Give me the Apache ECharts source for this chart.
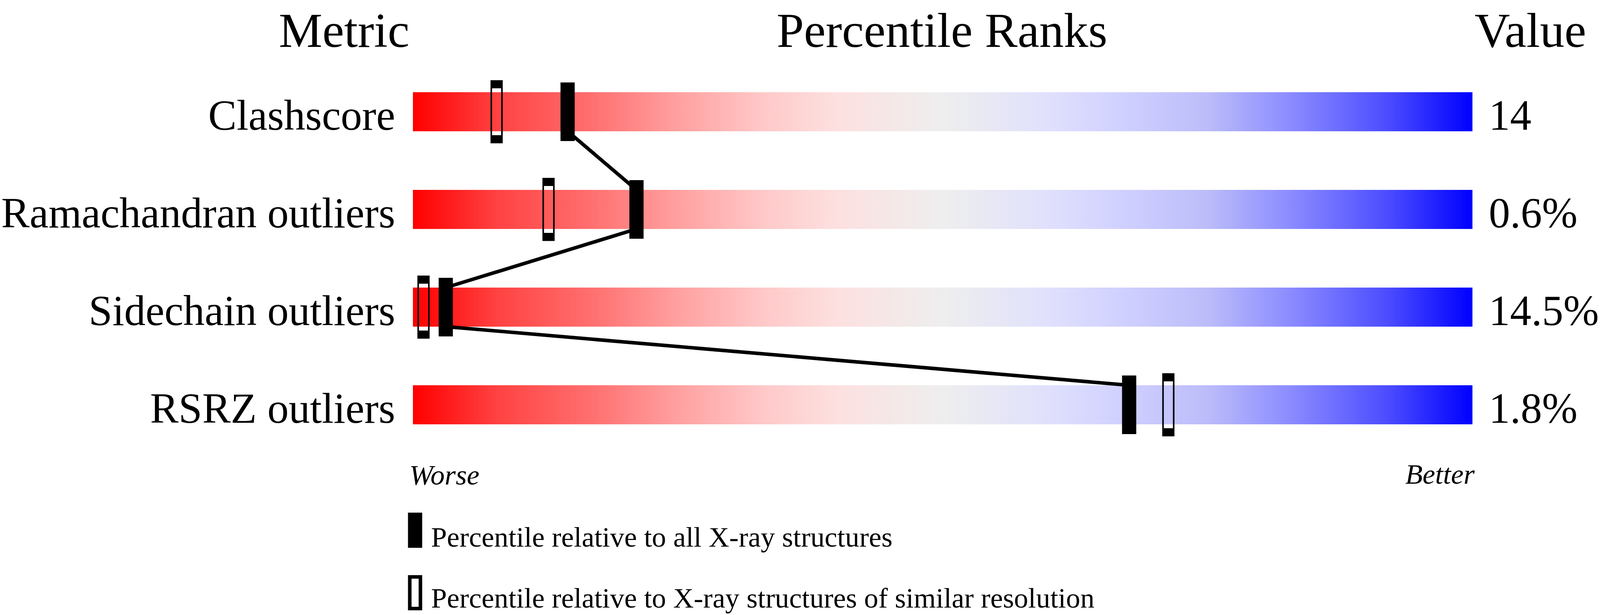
<!DOCTYPE html>
<html>
<head>
<meta charset="utf-8">
<script src="https://cdn.jsdelivr.net/npm/echarts@6/dist/echarts.min.js"></script>
<style>
  html, body { margin: 0; padding: 0; background: #ffffff; overflow: hidden; }
  #chart { width: 100vw; height: 100vh; }
</style>
</head>
<body>
<div id="chart"></div>
<script>
// ---- data ----
const metrics = ['Clashscore', 'Ramachandran outliers', 'Sidechain outliers', 'RSRZ outliers'];
const valueLabels = ['14', '0.6%', '14.5%', '1.8%'];
const pctAllXray = [14.6, 21.1, 3.1, 67.6];        // filled markers: relative to all X-ray structures
const pctSimilarRes = [7.9, 12.8, 1.0, 71.3];      // hollow markers: relative to similar resolution
const headerTexts = ['Metric', 'Percentile Ranks', 'Value'];
const scaleEnds = ['Worse', 'Better'];
const legendTexts = ['Percentile relative to all X-ray structures',
                     'Percentile relative to X-ray structures of similar resolution'];

const FONT = '"Liberation Serif", "Times New Roman", serif';

// layout designed for a 4506 x 1574 page, scaled to the actual viewport
const W = window.innerWidth, H = window.innerHeight;
const sx = W / 4506, sy = H / 1574, f = Math.min(sx, sy);
const X = v => v * sx, Y = v => v * sy;
const BASE = 0.29; // baseline offset (fraction of font size) for middle-aligned text
const tY = (baseline, fs) => Y(baseline) - BASE * fs;

const chart = echarts.init(document.getElementById('chart'), null, { renderer: 'svg' });

const grad = new echarts.graphic.LinearGradient(0, 0, 1, 0, [
  { offset: 0.00, color: 'rgb(255,0,0)' },
  { offset: 0.08, color: 'rgb(255,66,66)' },
  { offset: 0.17, color: 'rgb(255,112,112)' },
  { offset: 0.25, color: 'rgb(255,160,160)' },
  { offset: 0.33, color: 'rgb(255,200,200)' },
  { offset: 0.40, color: 'rgb(253,224,224)' },
  { offset: 0.50, color: 'rgb(238,238,238)' },
  { offset: 0.60, color: 'rgb(224,224,253)' },
  { offset: 0.67, color: 'rgb(208,208,255)' },
  { offset: 0.75, color: 'rgb(188,188,250)' },
  { offset: 0.83, color: 'rgb(138,138,255)' },
  { offset: 0.92, color: 'rgb(76,76,255)' },
  { offset: 1.00, color: 'rgb(0,0,255)' }
]);

// segments joining consecutive "all X-ray" markers
const linkData = [];
for (let i = 0; i < pctAllXray.length - 1; i++) {
  linkData.push([pctAllXray[i], i, pctAllXray[i + 1], i + 1]);
}

const labelFs = 120 * f, headFs = 138 * f, smallFs = 80 * f;
const bw = 10 * f;
// put the label baseline near the bar's bottom edge
const labelLH = Math.max(2, 2 * (Y(41) - BASE * labelFs));

const axisLabelBase = {
  fontSize: labelFs, fontFamily: FONT, color: '#000',
  verticalAlign: 'top', lineHeight: labelLH
};

chart.setOption({
  backgroundColor: '#ffffff',
  animation: false,
  grid: { left: X(1153), right: X(4506 - 4153), top: Y(161), bottom: Y(1574 - 1161), containLabel: false },
  xAxis: { type: 'value', min: 0, max: 100, show: false },
  yAxis: [
    {
      type: 'category', data: metrics, inverse: true, position: 'left',
      axisLine: { show: false }, axisTick: { show: false }, splitLine: { show: false },
      axisLabel: Object.assign({ margin: X(50) }, axisLabelBase)
    },
    {
      type: 'category', data: valueLabels, inverse: true, position: 'right',
      axisLine: { show: false }, axisTick: { show: false }, splitLine: { show: false },
      axisLabel: Object.assign({ margin: X(46), align: 'left' }, axisLabelBase)
    }
  ],
  series: [
    {
      type: 'bar', yAxisIndex: 0, barWidth: Y(100), z: 1,
      data: metrics.map(() => 100),
      itemStyle: { color: grad },
      silent: true
    },
    {
      type: 'custom', yAxisIndex: 0, z: 3,
      data: linkData,
      renderItem: function (params, api) {
        const a = api.coord([api.value(0), api.value(1)]);
        const b = api.coord([api.value(2), api.value(3)]);
        const half = api.size([0, 1])[1] * 0.2;
        return {
          type: 'line',
          shape: { x1: a[0], y1: a[1] + half, x2: b[0], y2: b[1] - half },
          style: { stroke: '#000', lineWidth: bw }
        };
      },
      silent: true
    },
    {
      type: 'scatter', yAxisIndex: 0, z: 5,
      symbol: 'rect', symbolSize: [X(40) - bw, Y(150) - bw],
      data: pctSimilarRes.map((v, i) => [v, i]),
      itemStyle: { color: 'rgba(0,0,0,0)', borderColor: '#000', borderWidth: bw, opacity: 1 },
      silent: true
    },
    {
      type: 'scatter', yAxisIndex: 0, z: 6,
      symbol: 'rect', symbolSize: [X(40), Y(150)],
      data: pctAllXray.map((v, i) => [v, i]),
      itemStyle: { color: '#000', opacity: 1 },
      silent: true
    }
  ],
  graphic: [
    { type: 'text', style: { text: headerTexts[0], x: X(1153), y: tY(114, headFs), textAlign: 'right', textVerticalAlign: 'middle', fontSize: headFs, lineHeight: headFs, fontFamily: FONT, fill: '#000' } },
    { type: 'text', style: { text: headerTexts[1], x: X(2653), y: tY(114, headFs), textAlign: 'center', textVerticalAlign: 'middle', fontSize: headFs, lineHeight: headFs, fontFamily: FONT, fill: '#000' } },
    { type: 'text', style: { text: headerTexts[2], x: X(4153), y: tY(114, headFs), textAlign: 'left', textVerticalAlign: 'middle', fontSize: headFs, lineHeight: headFs, fontFamily: FONT, fill: '#000' } },
    { type: 'text', style: { text: scaleEnds[0], x: X(1153), y: tY(1237, smallFs), textAlign: 'left', textVerticalAlign: 'middle', fontSize: smallFs, fontStyle: 'italic', fontFamily: FONT, fill: '#000' } },
    { type: 'text', style: { text: scaleEnds[1], x: X(4153), y: tY(1235, smallFs), textAlign: 'right', textVerticalAlign: 'middle', fontSize: smallFs, fontStyle: 'italic', fontFamily: FONT, fill: '#000' } },
    { type: 'rect', shape: { x: X(1149), y: Y(1312), width: X(40), height: Y(90) }, style: { fill: '#000' } },
    { type: 'text', style: { text: legendTexts[0], x: X(1214), y: tY(1396, smallFs), textAlign: 'left', textVerticalAlign: 'middle', fontSize: smallFs, fontFamily: FONT, fill: '#000' } },
    { type: 'rect', shape: { x: X(1149) + bw / 2, y: Y(1472) + bw / 2, width: X(40) - bw, height: Y(90) - bw }, style: { fill: 'none', stroke: '#000', lineWidth: bw } },
    { type: 'text', style: { text: legendTexts[1], x: X(1214), y: tY(1552, smallFs), textAlign: 'left', textVerticalAlign: 'middle', fontSize: smallFs, fontFamily: FONT, fill: '#000' } }
  ]
});
</script>
</body>
</html>
